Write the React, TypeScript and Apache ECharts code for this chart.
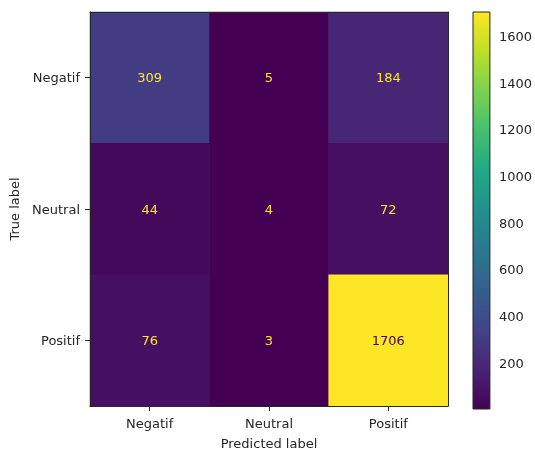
import React, { useEffect, useRef } from "react";
import * as echarts from "echarts";

// Confusion matrix: rows are the true class, columns the predicted class
const predictedLabels = ["Negatif", "Neutral", "Positif"];
const trueLabels = ["Negatif", "Neutral", "Positif"];
const rowNegatif = [309, 5, 184];
const rowNeutral = [44, 4, 72];
const rowPositif = [76, 3, 1706];
const colorbarTicks = [200, 400, 600, 800, 1000, 1200, 1400, 1600];

// viridis colour map, evenly spaced stops
const viridis = [
  "#440154",
  "#482475",
  "#414487",
  "#355f8d",
  "#2a788e",
  "#21918c",
  "#22a884",
  "#44bf70",
  "#7ad151",
  "#bddf26",
  "#fde725",
];

const FONT = "DejaVu Sans";
const INK = "#262626";

export default function App() {
  const ref = useRef<HTMLDivElement>(null);

  useEffect(() => {
    if (!ref.current) return;
    const chart = echarts.init(ref.current, null, { renderer: "svg" });

    const rows = [rowNegatif, rowNeutral, rowPositif];
    const flat = rows.flat();
    const vMin = Math.min(...flat);
    const vMax = Math.max(...flat);
    const threshold = (vMin + vMax) / 2;

    const cells: any[] = [];
    rows.forEach((row, r) =>
      row.forEach((v, c) => {
        cells.push({
          value: [c, r, v],
          label: { color: v < threshold ? viridis[viridis.length - 1] : viridis[0] },
        });
      })
    );

    const gradientStops = viridis.map((color, i) => ({
      offset: i / (viridis.length - 1),
      color,
    }));

    const frameLine = { show: true, lineStyle: { color: INK, width: 1 } };

    chart.setOption({
      animation: false,
      textStyle: { fontFamily: FONT },
      grid: [
        { left: 90, top: 12, width: 358, height: 397 },
        { left: 473, top: 12, width: 19, height: 397 },
      ],
      xAxis: [
        {
          gridIndex: 0,
          type: "category",
          data: predictedLabels,
          position: "bottom",
          z: 5,
          axisLine: frameLine,
          axisTick: { show: true, alignWithLabel: true, length: 5, lineStyle: { color: INK } },
          axisLabel: { fontSize: 13, color: INK, margin: 11, fontFamily: FONT },
          splitLine: { show: false },
          name: "Predicted label",
          nameLocation: "middle",
          nameGap: 31,
          nameTextStyle: { fontSize: 13, color: INK, fontFamily: FONT },
        },
        {
          gridIndex: 0,
          type: "category",
          data: predictedLabels,
          position: "top",
          z: 5,
          axisLine: frameLine,
          axisTick: { show: false },
          axisLabel: { show: false },
          splitLine: { show: false },
        },
        {
          gridIndex: 1,
          type: "value",
          min: 0,
          max: 1,
          show: false,
        },
      ],
      yAxis: [
        {
          gridIndex: 0,
          type: "category",
          data: trueLabels,
          inverse: true,
          position: "left",
          z: 5,
          axisLine: frameLine,
          axisTick: { show: true, alignWithLabel: true, length: 5, lineStyle: { color: INK } },
          axisLabel: { fontSize: 13, color: INK, margin: 10, fontFamily: FONT },
          splitLine: { show: false },
          name: "True label",
          nameLocation: "middle",
          nameGap: 60,
          nameRotate: 90,
          nameTextStyle: { fontSize: 13, color: INK, fontFamily: FONT },
        },
        {
          gridIndex: 0,
          type: "category",
          data: trueLabels,
          inverse: true,
          position: "right",
          z: 5,
          axisLine: frameLine,
          axisTick: { show: false },
          axisLabel: { show: false },
          splitLine: { show: false },
        },
        {
          gridIndex: 1,
          type: "value",
          min: vMin,
          max: vMax,
          position: "right",
          axisLine: { show: false },
          axisTick: {
            show: true,
            length: 5,
            customValues: colorbarTicks,
            lineStyle: { color: INK },
          },
          axisLabel: {
            fontSize: 13,
            color: INK,
            margin: 9,
            fontFamily: FONT,
            customValues: colorbarTicks,
            formatter: (v: number) => String(v),
          },
          splitLine: { show: false },
        },
      ],
      visualMap: {
        show: false,
        type: "continuous",
        min: vMin,
        max: vMax,
        dimension: 2,
        seriesIndex: 0,
        inRange: { color: viridis },
      },
      series: [
        {
          type: "heatmap",
          xAxisIndex: 0,
          yAxisIndex: 0,
          data: cells,
          label: {
            show: true,
            fontSize: 13,
            fontFamily: FONT,
            formatter: (p: any) => String(p.value[2]),
          },
          itemStyle: { borderWidth: 0 },
          emphasis: { disabled: true },
        },
        {
          type: "custom",
          xAxisIndex: 2,
          yAxisIndex: 2,
          data: [[0, vMin, vMax]],
          renderItem: (_params: any, api: any) => {
            const p0 = api.coord([0, vMin]);
            const p1 = api.coord([1, vMax]);
            return {
              type: "rect",
              shape: {
                x: p0[0],
                y: p1[1],
                width: p1[0] - p0[0],
                height: p0[1] - p1[1],
              },
              style: {
                fill: new echarts.graphic.LinearGradient(0, 1, 0, 0, gradientStops),
                stroke: INK,
                lineWidth: 1,
              },
            };
          },
          silent: true,
        },
      ],
    });

    return () => chart.dispose();
  }, []);

  return (
    <div
      ref={ref}
      style={{ position: "fixed", left: 0, top: 0, width: 535, height: 455 }}
    />
  );
}
